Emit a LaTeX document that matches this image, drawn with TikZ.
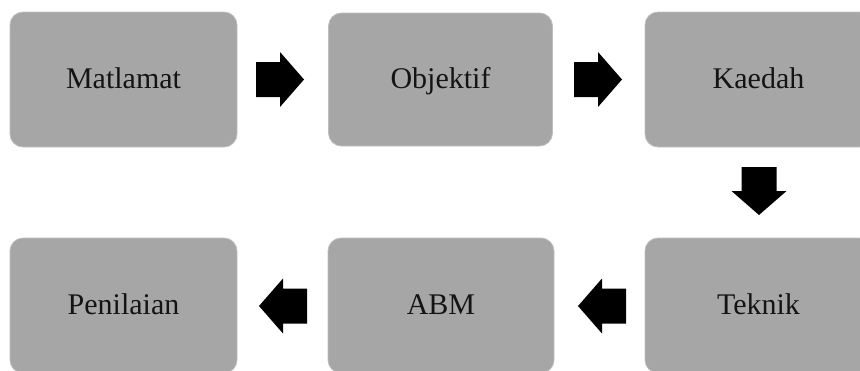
\documentclass[tikz,border=0pt]{standalone}
\usepackage{fontspec}
\setmainfont{Liberation Serif}
\definecolor{boxgray}{RGB}{166,166,166}
\definecolor{boxedge}{RGB}{190,190,190}
\definecolor{txt}{RGB}{20,20,20}
\begin{document}
\begin{tikzpicture}[x=1pt,y=-1pt,
  stage/.style={rectangle, rounded corners=13pt, fill=boxgray, draw=boxedge, line width=0.8pt,
    minimum width=227pt, minimum height=135pt, inner sep=0pt, text=txt,
    text height=22pt, text depth=4pt,
    font=\fontsize{30}{34}\selectfont},
  blockarrow/.pic={\fill[black] (0,-17.5) -- (24,-17.5) -- (24,-27.5) -- (48,0) -- (24,27.5) -- (24,17.5) -- (0,17.5) -- cycle;}
]
\useasboundingbox (0,0) rectangle (860,370);
\clip (0,0) rectangle (860,370);
\node[stage] (matlamat) at (123.5,79.5) {Matlamat};
\node[stage, minimum width=224pt, minimum height=133pt] (objektif) at (440.5,79.5) {Objektif};
\node[stage] (kaedah) at (758.5,79.5) {Kaedah};
\node[stage] (teknik) at (758.5,305.5) {Teknik};
\node[stage, minimum width=226pt] (abm) at (441,305.5) {ABM};
\node[stage] (penilaian) at (123.5,305.5) {Penilaian};
\pic at (256,79.5) {blockarrow};
\pic at (574,79.5) {blockarrow};
\pic[rotate=-90] at (759,167) {blockarrow};
\pic[rotate=180] at (626,306) {blockarrow};
\pic[rotate=180] at (307,306) {blockarrow};
\end{tikzpicture}
\end{document}
